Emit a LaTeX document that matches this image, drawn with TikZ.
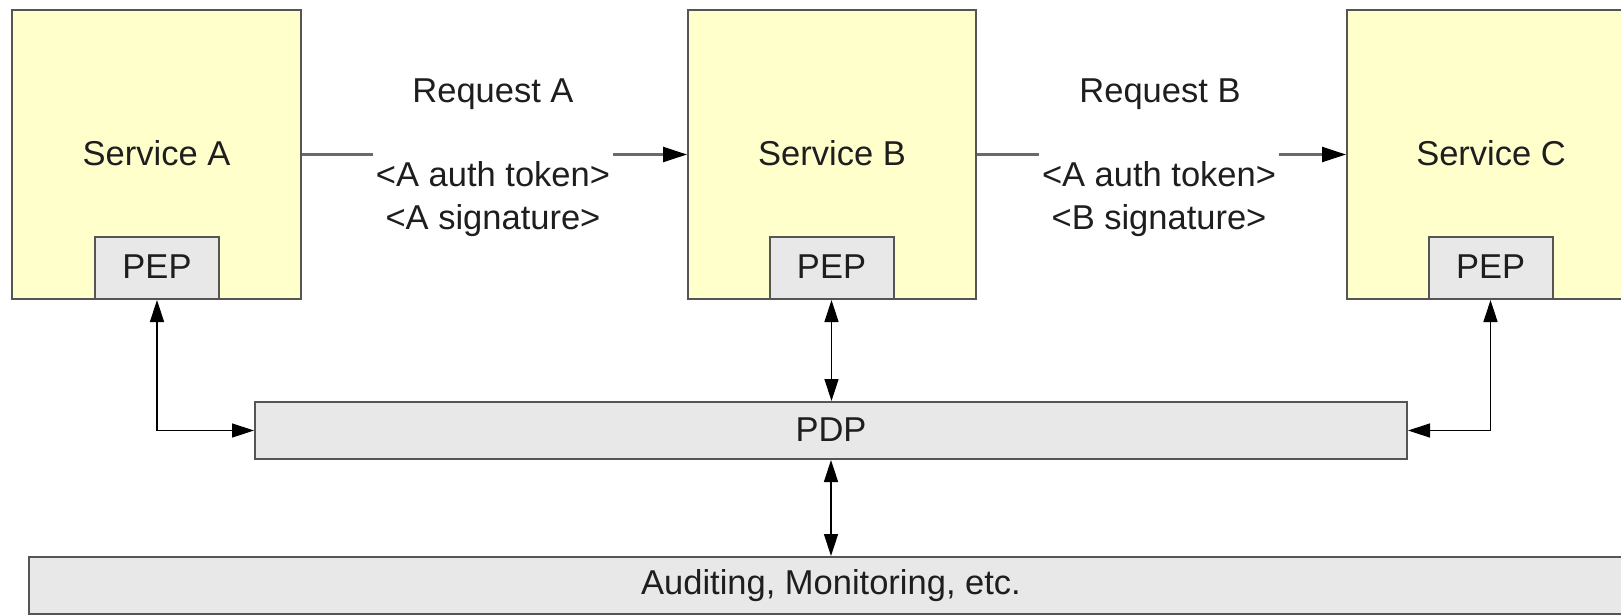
\documentclass[tikz,border=0pt]{standalone}
\usepackage{fontspec}
\setmainfont{Liberation Sans}
\usetikzlibrary{arrows.meta}
\definecolor{svcfill}{HTML}{FFFFCC}
\definecolor{gboxfill}{HTML}{E8E8E8}
\definecolor{edgecol}{HTML}{555555}
\definecolor{conncol}{HTML}{6A6A6A}
\definecolor{txtcol}{HTML}{1E1E1E}
\newcommand\lblfont{\fontsize{34.5}{43}\selectfont}
\begin{document}
\begin{tikzpicture}[x=1pt,y=-1pt,
  every node/.style={font=\lblfont, text=txtcol},
  svcbox/.style={draw=edgecol, line width=2pt, fill=svcfill, inner sep=0pt,
    minimum width=288pt, minimum height=289pt},
  pepbox/.style={draw=edgecol, line width=2pt, fill=gboxfill, inner sep=0pt,
    minimum width=124pt, minimum height=62pt},
  barbox/.style={draw=edgecol, line width=2pt, fill=gboxfill, inner sep=0pt,
    minimum height=57pt},
  reqlbl/.style={inner sep=0pt},
  toklbl/.style={fill=white, align=center, inner xsep=3pt, inner ysep=13pt},
  svcarrow/.style={draw=conncol, line width=2.5pt,
    -{Triangle[length=24pt,width=15pt,color=black]}},
  pdparrow/.style={draw=black, line width=1.5pt,
    {Triangle[length=22pt,width=14pt]}-{Triangle[length=22pt,width=14pt]}}
]
\fill[white] (0,0) rectangle (1621,614);
\useasboundingbox (0,0) rectangle (1621,614);

% services
\node[svcbox, minimum width=289pt] (svcA) at (156.5,154.5) {\raisebox{3pt}{Service A}};
\node[svcbox] (svcB) at (832,154.5) {\raisebox{3pt}{Service B}};
\node[svcbox] (svcC) at (1491,154.5) {\raisebox{3pt}{Service C}};

% PEPs
\node[pepbox] (pepA) at (157,268) {\raisebox{2pt}{PEP}};
\node[pepbox] (pepB) at (831.5,268) {\raisebox{2pt}{PEP}};
\node[pepbox] (pepC) at (1490.5,268) {\raisebox{2pt}{PEP}};

% PDP and auditing
\node[barbox, minimum width=1152pt] (pdp) at (831,430.5) {\raisebox{2pt}{PDP}};
\node[barbox, minimum width=1604pt] (audit) at (831,585.5) {Auditing, Monitoring, etc.};

% requests
\draw[svcarrow] (svcA) -- (svcB);
\draw[svcarrow] (svcB) -- (svcC);
\node[reqlbl] (reqA) at (493,94) {Request A};
\node[toklbl] (tokA) at (493,199) {<A auth token>\\<A signature>};
\node[reqlbl] (reqB) at (1160,94) {Request B};
\node[toklbl] (tokB) at (1159,199) {<A auth token>\\<B signature>};

% PDP links
\draw[pdparrow] (pepA.south) |- (pdp.west);
\draw[pdparrow] (pepB.south) -- (pepB.south |- pdp.north);
\draw[pdparrow] (pepC.south) |- (pdp.east);
\draw[pdparrow] (pdp.south) -- (pdp.south |- audit.north);
\end{tikzpicture}
\end{document}
